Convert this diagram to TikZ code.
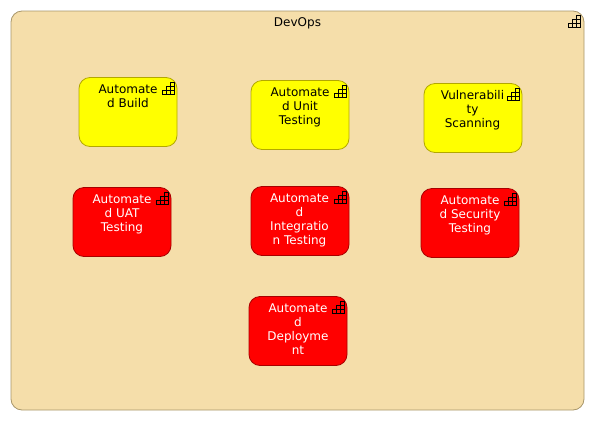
\documentclass[tikz,border=0pt]{standalone}
\usepackage{fontspec}
\setmainfont{DejaVu Sans}
\definecolor{groupfill}{HTML}{F5DEAA}
\definecolor{groupline}{HTML}{A8966A}
\definecolor{taskyellow}{HTML}{FFFF00}
\definecolor{taskred}{HTML}{FF0000}
\definecolor{yellowline}{HTML}{B3A800}
\definecolor{redline}{HTML}{A80000}
\tikzset{
  caption/.style={font=\fontsize{12}{14}\selectfont, align=center, inner sep=0pt, anchor=north},
  taskbox/.style={draw, line width=0.8pt, rounded corners=11pt, minimum width=98pt, minimum height=69pt, inner sep=0pt},
  yellowbox/.style={taskbox, fill=taskyellow, draw=yellowline},
  redbox/.style={taskbox, fill=taskred, draw=redline},
  stairs/.pic={
    \draw[black, line width=0.8pt] (0,12) -- (12,12) -- (12,0) -- (8,0) -- (8,12)
      (4,12) -- (4,4) -- (12,4) (0,12) -- (0,8) -- (12,8);
  }
}
\begin{document}
\begin{tikzpicture}[x=1pt, y=-1pt]
\useasboundingbox (0,0) rectangle (595,421);
\node[draw=groupline, line width=0.8pt, fill=groupfill, rounded corners=11pt, minimum width=573pt, minimum height=399pt, inner sep=0pt] (devops) at (297.5,210.5) {};
\node[caption] (devopstext) at (297.5,17) {DevOps};
\pic at (568.5,15.5) {stairs};
% upper row
\node[yellowbox] (build) at (128,112) {};
\node[caption] (buildtext) at (128,84.5) {Automate\\d Build};
\pic at (162,82.5) {stairs};
\node[yellowbox] (unit) at (300,115) {};
\node[caption] (unittext) at (300,87.5) {Automate\\d Unit\\Testing};
\pic at (334,85.5) {stairs};
\node[yellowbox] (scan) at (473,118) {};
\node[caption] (scantext) at (472.5,90.5) {Vulnerabili\\ty\\Scanning};
\pic at (507,88.5) {stairs};
% middle row
\node[redbox] (uat) at (122,222) {};
\node[caption, text=white] (uattext) at (122,194.5) {Automate\\d UAT\\Testing};
\pic at (156,192.5) {stairs};
\node[redbox] (integration) at (300,221) {};
\node[caption, text=white] (integrationtext) at (299.5,193.5) {Automate\\d\\Integratio\\n Testing};
\pic at (334,191.5) {stairs};
\node[redbox] (security) at (470,223) {};
\node[caption, text=white] (securitytext) at (470,195.5) {Automate\\d Security\\Testing};
\pic at (504,193.5) {stairs};
% last one
\node[redbox] (deploy) at (298,331) {};
\node[caption, text=white] (deploytext) at (298,303.5) {Automate\\d\\Deployme\\nt};
\pic at (332,301.5) {stairs};
\end{tikzpicture}
\end{document}
